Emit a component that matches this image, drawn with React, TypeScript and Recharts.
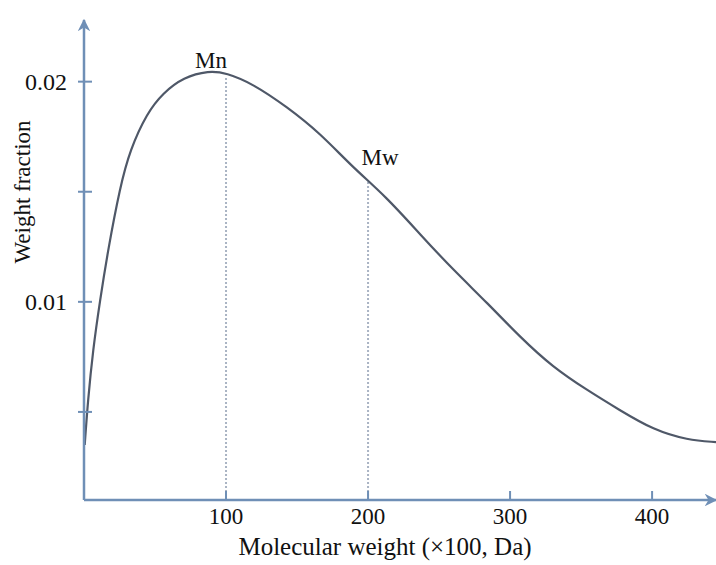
import { LineChart, Line, XAxis, YAxis, ReferenceLine, ReferenceDot } from "recharts"

// molecular weight (x100 Da)
const molWeight = [0.5, 2.8, 6.3, 11.3, 16.9, 25.4, 32.4, 44.4, 55.6, 70, 88, 100, 119, 143, 166, 189, 213, 237, 260, 284, 307, 330, 354, 377, 401, 425, 445]
const weightFraction = [0.0035, 0.00554, 0.00781, 0.01008, 0.01235, 0.01522, 0.0169, 0.01858, 0.01948, 0.0202, 0.0205, 0.0204, 0.0199, 0.01885, 0.01767, 0.01612, 0.01476, 0.01304, 0.01145, 0.00995, 0.0084, 0.00704, 0.006, 0.00509, 0.00418, 0.00372, 0.00363]

const xTicks = [100, 200, 300, 400]
const yTicks = [0.005, 0.01, 0.015, 0.02]
const yLabelled = [0.01, 0.02]

const mn = { x: 100, y: 0.0202 }
const mw = { x: 200, y: 0.01553 }

const data = molWeight.map((m, i) => ({ m, w: weightFraction[i] }))

const axisColor = "#6f8fb6"
const font = "'Liberation Serif', 'Times New Roman', serif"

function YTick({ x, y, payload }: any) {
    const show = yLabelled.includes(payload.value)
    return (
        <g>
            <line x1={x - 6} y1={y} x2={x + 8} y2={y} stroke={axisColor} strokeWidth={2} />
            {show && (
                <text x={x - 17} y={y} dy={8} textAnchor="end" fontSize={24} fill="#111" fontFamily={font}>
                    {payload.value}
                </text>
            )}
        </g>
    )
}

function XTick({ x, y, payload }: any) {
    return (
        <g>
            <line x1={x} y1={y - 9} x2={x} y2={y} stroke={axisColor} strokeWidth={2} />
            <text x={x} y={y + 24} textAnchor="middle" fontSize={23} fill="#111" fontFamily={font}>
                {payload.value}
            </text>
        </g>
    )
}

export default function App() {
    return (
        <div style={{ position: "absolute", left: 0, top: 0, width: 716, height: 565, background: "#fff" }}>
            <svg width={0} height={0} style={{ position: "absolute" }}>
                <defs>
                    <marker id="arrow" viewBox="0 0 10 10" refX="9" refY="5" markerWidth="5" markerHeight="5" orient="auto-start-reverse">
                        <path d="M0,0 L10,5 L0,10 L3,5 Z" fill={axisColor} />
                    </marker>
                </defs>
            </svg>
            <LineChart width={716} height={565} data={data} margin={{ top: 20, right: 0, bottom: 0, left: 0 }}>
                <XAxis
                    type="number"
                    dataKey="m"
                    domain={[0, 445]}
                    allowDataOverflow
                    ticks={xTicks}
                    height={65}
                    tickSize={0}
                    tickMargin={0}
                    tickLine={false}
                    tick={<XTick />}
                    axisLine={{ stroke: axisColor, strokeWidth: 2.5, markerEnd: "url(#arrow)" }}
                    label={{
                        value: "Molecular weight (×100, Da)",
                        position: "insideBottom",
                        offset: 10,
                        dx: -15,
                        fontSize: 25,
                        fill: "#111",
                        fontFamily: font,
                    }}
                />
                <YAxis
                    type="number"
                    domain={[0.001, 0.0228]}
                    allowDataOverflow
                    ticks={yTicks}
                    width={84}
                    tickSize={0}
                    tickMargin={0}
                    tickLine={false}
                    tick={<YTick />}
                    axisLine={{ stroke: axisColor, strokeWidth: 2.5, markerStart: "url(#arrow)" }}
                    label={{
                        content: ({ viewBox }: any) => (
                            <text
                                x={viewBox.x + 22}
                                y={viewBox.y + 172}
                                transform={`rotate(-90, ${viewBox.x + 22}, ${viewBox.y + 172})`}
                                textAnchor="middle"
                                dominantBaseline="central"
                                fontSize={23}
                                fill="#111"
                                fontFamily={font}
                            >
                                Weight fraction
                            </text>
                        ),
                    }}
                />
                <ReferenceLine
                    segment={[{ x: mn.x, y: 0.001 }, mn]}
                    stroke="#aab4c4"
                    strokeWidth={2}
                    strokeDasharray="2 2"
                />
                <ReferenceLine
                    segment={[{ x: mw.x, y: 0.001 }, mw]}
                    stroke="#aab4c4"
                    strokeWidth={2}
                    strokeDasharray="2 2"
                />
                <Line
                    type="basis"
                    dataKey="w"
                    stroke="#4f5868"
                    strokeWidth={2.2}
                    dot={false}
                    isAnimationActive={false}
                />
                <ReferenceDot
                    x={mn.x}
                    y={mn.y}
                    r={0}
                    label={{ value: "Mn", position: "top", offset: 9, dx: -15, fontSize: 23, fill: "#111", fontFamily: font }}
                />
                <ReferenceDot
                    x={mw.x}
                    y={mw.y}
                    r={0}
                    label={{ value: "Mw", position: "top", offset: 15, dx: 12, fontSize: 23, fill: "#111", fontFamily: font }}
                />
            </LineChart>
        </div>
    )
}
